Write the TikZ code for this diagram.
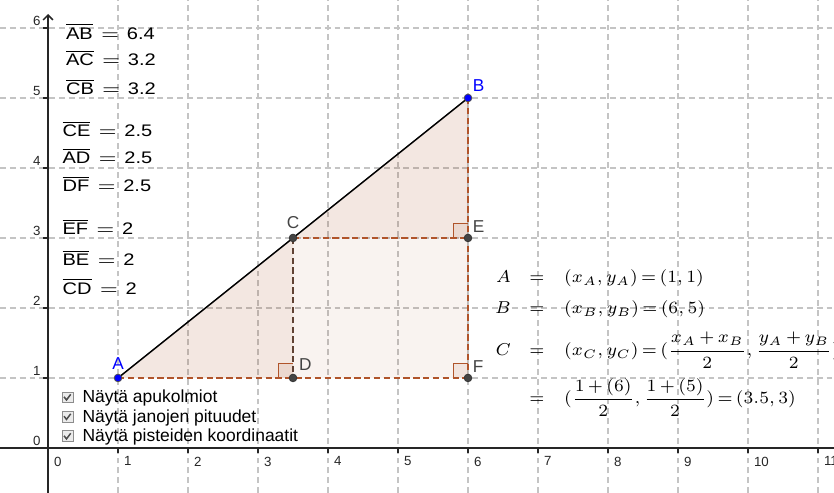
\documentclass[tikz,border=0pt]{standalone}
\usepackage{amsmath}
\usepackage{graphicx}
\usepackage{fontspec}
\setmainfont{Liberation Sans}
\usetikzlibrary{arrows.meta, positioning}
\definecolor{gridgray}{RGB}{196,196,196}
\definecolor{polybrown}{RGB}{153,51,0}
\definecolor{segbrown}{RGB}{176,84,42}
\definecolor{segdark}{RGB}{96,66,52}
\definecolor{ptblue}{RGB}{0,0,255}
\definecolor{ptgray}{RGB}{68,68,68}
\definecolor{boxgray}{RGB}{140,140,140}
\newcommand{\lenrow}[2]{\scalebox{1.2}[1]{$\overline{\text{#1}}$\hspace{2.8pt}$=$\hspace{2.6pt}#2}}
\tikzset{
  gridline/.style={gridgray, line width=0.55pt, dash pattern=on 2.4pt off 1.6pt},
  axisline/.style={black!85, line width=0.6pt},
  ticklabel/.style={font=\fontsize{5.4}{6}\selectfont, inner sep=0pt, text=black!85},
  polyfill/.style={fill=polybrown, fill opacity=0.06},
  anglefill/.style={fill=polybrown, fill opacity=0.08},
  anglemark/.style={segbrown, line width=0.6pt},
  segline/.style={segbrown, line width=0.6pt, dash pattern=on 2.6pt off 1.4pt},
  sideline/.style={black, line width=0.6pt},
  bluept/.style={circle, draw=black!70, fill=ptblue, minimum size=0.11cm, inner sep=0pt, line width=0.3pt},
  graypt/.style={circle, draw=black!80, fill=ptgray, minimum size=0.11cm, inner sep=0pt, line width=0.3pt},
  ptlabel/.style={font=\fontsize{7}{8}\selectfont, inner sep=0pt, text=ptgray},
  lenlabel/.style={font=\fontsize{6.8}{8}\selectfont, inner sep=0pt, anchor=base west},
  formula/.style={font={\fontsize{6.7}{8}\selectfont\thickmuskip=3mu\medmuskip=3mu},
    inner sep=0pt, anchor=base west},
  checkbox/.style={rectangle, draw=boxgray, fill=black!8, minimum size=0.157cm, inner sep=0pt, line width=0.4pt},
  checkmark/.style={black!70, line width=0.6pt},
  boxtext/.style={font=\fontsize{7.1}{8.5}\selectfont, inner sep=0pt, anchor=base west}
}

\begin{document}
\begin{tikzpicture}[x=1cm, y=1cm]
  \useasboundingbox (-0.686,-0.643) rectangle (11.229,6.4);
  \fill[white] (-0.686,-0.643) rectangle (11.229,6.4);

  % Grid
  \foreach \x in {1,...,11}
    \draw[gridline] (\x,-0.643) -- (\x,6.4);
  \foreach \y in {1,...,6}
    \draw[gridline] (-0.686,\y) -- (11.229,\y);

  % Axes
  \draw[axisline] (-0.686,0) -- (11.229,0);
  \draw[axisline, -{Straight Barb[length=2pt, width=4pt]}] (0,-0.643) -- (0,6.2);
  \foreach \x in {1,...,11}
    \draw[axisline] (\x,0) -- (\x,-0.07);
  \foreach \y in {1,...,6}
    \draw[axisline] (0,\y) -- (-0.07,\y);
  \foreach \x in {0,...,11}
    \node[ticklabel, anchor=north west] (xl\x) at (\x+0.08,-0.12) {\x};
  \foreach \y in {0,...,6}
    \node[ticklabel, anchor=south east] (yl\y) at (-0.1,\y+0.03) {\y};

  % Construction points
  \coordinate (A) at (1,1);
  \coordinate (B) at (6,5);
  \coordinate (C) at (3.5,3);
  \coordinate (D) at (3.5,1);
  \coordinate (E) at (6,3);
  \coordinate (F) at (6,1);

  % Triangles
  \fill[polyfill] (A) -- (B) -- (F) -- cycle;
  \fill[polyfill] (A) -- (C) -- (D) -- cycle;
  \fill[polyfill] (C) -- (B) -- (E) -- cycle;

  % Right angles
  \foreach \p in {D,E,F} {
    \fill[anglefill] (\p) rectangle ++(-0.21,0.21);
    \draw[anglemark] (\p) ++(-0.21,0) |- ++(0.21,0.21);
  }

  % Segments
  \draw[segline] (A) -- (F);
  \draw[segline] (C) -- (E);
  \draw[segline] (B) -- (F);
  \draw[segline, segdark] (C) -- (D);
  \draw[sideline] (A) -- (B);

  % Points and labels
  \node[bluept] (ptA) at (A) {};
  \node[bluept] (ptB) at (B) {};
  \node[graypt] (ptC) at (C) {};
  \node[graypt] (ptD) at (D) {};
  \node[graypt] (ptE) at (E) {};
  \node[graypt] (ptF) at (F) {};
  \node[ptlabel, text=ptblue, above=0.12 of ptA.center] (labA) {A};
  \node[ptlabel, text=ptblue, above right=0.08 and 0.064 of ptB.center] (labB) {B};
  \node[ptlabel, above=0.13 of ptC.center] (labC) {C};
  \node[ptlabel, above right=0.1 and 0.079 of ptD.center] (labD) {D};
  \node[ptlabel, above right=0.066 and 0.064 of ptE.center] (labE) {E};
  \node[ptlabel, above right=0.074 and 0.064 of ptF.center] (labF) {F};

  % Segment lengths
  \node[lenlabel] (lenAB) at (0.25,5.839) {\lenrow{AB}{6.4}};
  \node[lenlabel] (lenAC) at (0.25,5.457) {\lenrow{AC}{3.2}};
  \node[lenlabel] (lenCB) at (0.25,5.043) {\lenrow{CB}{3.2}};
  \node[lenlabel] (lenCE) at (0.2,4.447) {\lenrow{CE}{2.5}};
  \node[lenlabel] (lenAD) at (0.2,4.057) {\lenrow{AD}{2.5}};
  \node[lenlabel] (lenDF) at (0.2,3.661) {\lenrow{DF}{2.5}};
  \node[lenlabel] (lenEF) at (0.2,3.043) {\lenrow{EF}{2}};
  \node[lenlabel] (lenBE) at (0.2,2.604) {\lenrow{BE}{2}};
  \node[lenlabel] (lenCD) at (0.2,2.196) {\lenrow{CD}{2}};

  % Coordinates of the points
  \node[formula] (eqA) at (6.87,2.36)
    {\llap{$A$\hspace{7.5pt}}$=$\hspace{8pt}$(x_A,y_A)=(1,1)$};
  \node[formula] (eqB) at (6.87,1.914)
    {\llap{$B$\hspace{7.5pt}}$=$\hspace{8pt}$(x_B,y_B)=(6,5)$};
  \node[formula] (eqC) at (6.87,1.32)
    {\llap{$C$\hspace{7.5pt}}$=$\hspace{8pt}$(x_C,y_C)=(\dfrac{x_A+x_B}{2},\dfrac{y_A+y_B}{2})$};
  \node[formula] (eqD) at (6.87,0.63)
    {$=$\hspace{8pt}$(\dfrac{1+(6)}{2},\dfrac{1+(5)}{2})=(3.5,3)$};

  % Check boxes
  \node[checkbox] (cb1) at (0.279,0.721) {};
  \node[checkbox] (cb2) at (0.279,0.443) {};
  \node[checkbox] (cb3) at (0.279,0.164) {};
  \foreach \b in {cb1,cb2,cb3}
    \draw[checkmark] (\b.center) ++(-0.05,0.01) -- ++(0.035,-0.045) -- ++(0.06,0.08);
  \node[boxtext] (txt1) at (0.486,0.647) {Näytä apukolmiot};
  \node[boxtext] (txt2) at (0.486,0.369) {Näytä janojen pituudet};
  \node[boxtext] (txt3) at (0.486,0.090) {Näytä pisteiden koordinaatit};
\end{tikzpicture}
\end{document}
